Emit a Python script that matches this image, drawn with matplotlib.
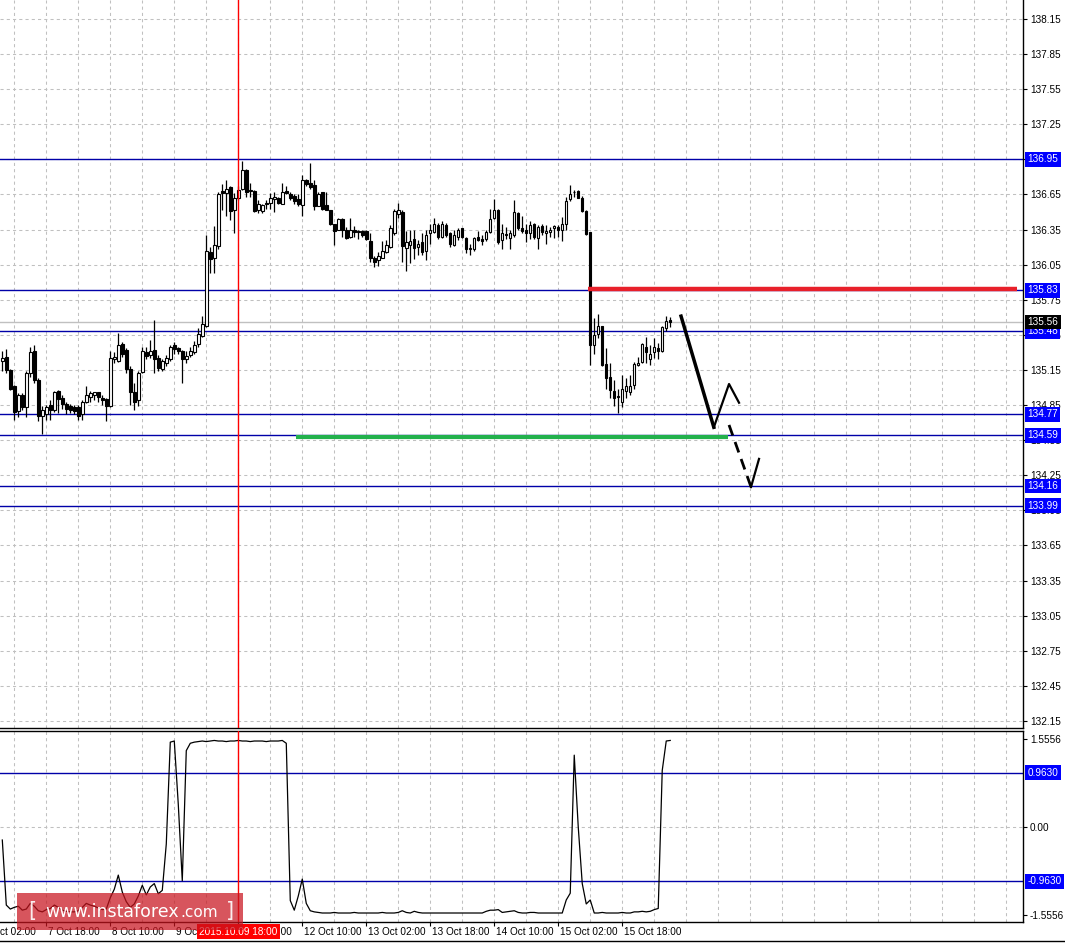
import numpy as np
import matplotlib
matplotlib.use("Agg")
import matplotlib.pyplot as plt
import matplotlib.transforms as mtransforms
from matplotlib.patches import Rectangle
from matplotlib.lines import Line2D

plt.rcParams['font.family'] = ['Liberation Sans', 'DejaVu Sans']

#### H1 candles, 7 Oct 07:00 ... 15 Oct 22:00
opens = [
    135.23, 135.26, 135.15, 135.01, 134.80, 134.94, 134.83, 135.12, 135.31, 135.06,
    134.76, 134.77, 134.85, 134.81, 134.97, 134.91, 134.86, 134.84, 134.83, 134.83,
    134.77, 134.88, 134.92, 134.94, 134.96, 134.91, 134.90, 134.84, 135.24, 135.23,
    135.37, 135.32, 135.16, 134.96, 134.89, 135.13, 135.30, 135.28, 135.32, 135.25,
    135.16, 135.21, 135.24, 135.36, 135.34, 135.31, 135.24, 135.28, 135.30, 135.37,
    135.44, 135.53, 136.16, 136.11, 136.21, 136.68, 136.66, 136.71, 136.52, 136.62,
    136.70, 136.86, 136.68, 136.68, 136.52, 136.51, 136.58, 136.58, 136.61, 136.62,
    136.57, 136.68, 136.65, 136.64, 136.61, 136.56, 136.77, 136.75, 136.73, 136.55,
    136.67, 136.56, 136.52, 136.40, 136.35, 136.44, 136.35, 136.29, 136.35, 136.34,
    136.34, 136.34, 136.25, 136.11, 136.09, 136.11, 136.16, 136.20, 136.32, 136.48,
    136.50, 136.19, 136.22, 136.27, 136.20, 136.24, 136.17, 136.32, 136.33, 136.39,
    136.29, 136.39, 136.32, 136.22, 136.29, 136.36, 136.28, 136.18, 136.18, 136.29,
    136.27, 136.27, 136.33, 136.45, 136.52, 136.26, 136.31, 136.28, 136.30, 136.49,
    136.36, 136.35, 136.32, 136.40, 136.28, 136.38, 136.32, 136.33, 136.36, 136.37,
    136.35, 136.40, 136.61, 136.67, 136.68, 136.62, 136.51, 136.33, 135.36, 135.46,
    135.53, 135.20, 135.09, 134.97, 134.92, 134.88, 134.97, 134.96, 135.02, 135.19,
    135.22, 135.35, 135.24, 135.30, 135.34, 135.31, 135.51, 135.58,
]
highs = [
    135.31, 135.33, 135.16, 135.02, 134.95, 134.95, 135.14, 135.35, 135.36, 135.08,
    134.84, 134.85, 134.89, 134.97, 134.98, 134.94, 134.88, 134.86, 134.85, 134.85,
    134.89, 135.01, 134.97, 134.96, 134.96, 134.94, 134.91, 135.31, 135.30, 135.47,
    135.39, 135.34, 135.18, 135.04, 135.14, 135.35, 135.35, 135.41, 135.58, 135.28,
    135.24, 135.28, 135.36, 135.39, 135.35, 135.32, 135.31, 135.35, 135.40, 135.51,
    135.61, 136.30, 136.20, 136.38, 136.67, 136.74, 136.77, 136.72, 136.66, 136.72,
    136.94, 136.87, 136.75, 136.69, 136.60, 136.57, 136.60, 136.66, 136.67, 136.63,
    136.75, 136.72, 136.67, 136.65, 136.65, 136.82, 136.78, 136.92, 136.77, 136.67,
    136.67, 136.67, 136.52, 136.40, 136.45, 136.45, 136.37, 136.45, 136.38, 136.35,
    136.35, 136.35, 136.32, 136.12, 136.16, 136.25, 136.26, 136.39, 136.53, 136.58,
    136.52, 136.34, 136.35, 136.35, 136.26, 136.32, 136.35, 136.40, 136.45, 136.41,
    136.42, 136.41, 136.33, 136.35, 136.36, 136.36, 136.29, 136.23, 136.29, 136.34,
    136.30, 136.35, 136.53, 136.61, 136.53, 136.40, 136.37, 136.35, 136.60, 136.50,
    136.47, 136.40, 136.42, 136.41, 136.39, 136.40, 136.39, 136.37, 136.39, 136.39,
    136.46, 136.63, 136.73, 136.69, 136.69, 136.64, 136.52, 136.33, 135.59, 135.63,
    135.53, 135.34, 135.21, 135.06, 134.99, 135.11, 135.08, 135.11, 135.22, 135.26,
    135.38, 135.43, 135.36, 135.42, 135.38, 135.53, 135.61, 135.60,
]
lows = [
    135.14, 135.12, 134.98, 134.72, 134.75, 134.81, 134.75, 135.09, 135.04, 134.71,
    134.60, 134.72, 134.72, 134.79, 134.78, 134.82, 134.77, 134.78, 134.77, 134.72,
    134.72, 134.87, 134.88, 134.89, 134.88, 134.85, 134.71, 134.83, 135.21, 135.22,
    135.26, 135.12, 134.85, 134.81, 134.84, 135.12, 135.24, 135.25, 135.12, 135.14,
    135.14, 135.18, 135.23, 135.29, 135.29, 135.04, 135.21, 135.26, 135.29, 135.35,
    135.43, 135.52, 135.98, 135.98, 136.18, 136.52, 136.47, 136.43, 136.32, 136.60,
    136.69, 136.63, 136.63, 136.50, 136.49, 136.49, 136.53, 136.53, 136.50, 136.57,
    136.57, 136.65, 136.60, 136.57, 136.55, 136.47, 136.72, 136.70, 136.52, 136.55,
    136.52, 136.52, 136.39, 136.22, 136.35, 136.29, 136.27, 136.28, 136.29, 136.27,
    136.29, 136.26, 136.07, 136.03, 136.04, 136.11, 136.15, 136.19, 136.30, 136.45,
    136.07, 136.00, 136.06, 136.10, 136.13, 136.13, 136.09, 136.23, 136.32, 136.27,
    136.28, 136.29, 136.20, 136.21, 136.26, 136.28, 136.15, 136.13, 136.17, 136.25,
    136.22, 136.25, 136.32, 136.44, 136.23, 136.18, 136.27, 136.18, 136.29, 136.35,
    136.32, 136.24, 136.27, 136.27, 136.18, 136.30, 136.23, 136.29, 136.28, 136.29,
    136.25, 136.35, 136.59, 136.63, 136.62, 136.50, 136.30, 135.19, 135.29, 135.42,
    135.18, 134.99, 134.91, 134.84, 134.78, 134.83, 134.91, 134.94, 134.99, 135.18,
    135.21, 135.21, 135.19, 135.25, 135.24, 135.30, 135.48, 135.52,
]
closes = [
    135.25, 135.15, 134.99, 134.79, 134.94, 134.83, 135.12, 135.30, 135.06, 134.76,
    134.81, 134.83, 134.81, 134.96, 134.90, 134.86, 134.82, 134.81, 134.80, 134.76,
    134.88, 134.94, 134.95, 134.96, 134.92, 134.89, 134.84, 135.25, 135.26, 135.36,
    135.29, 135.16, 134.96, 134.88, 135.12, 135.31, 135.27, 135.31, 135.24, 135.17,
    135.23, 135.25, 135.35, 135.33, 135.31, 135.24, 135.27, 135.31, 135.36, 135.46,
    135.54, 136.17, 136.10, 136.22, 136.65, 136.66, 136.70, 136.51, 136.62, 136.69,
    136.86, 136.67, 136.68, 136.51, 136.57, 136.56, 136.57, 136.62, 136.63, 136.58,
    136.67, 136.66, 136.62, 136.59, 136.57, 136.77, 136.74, 136.71, 136.55, 136.65,
    136.53, 136.52, 136.40, 136.34, 136.44, 136.35, 136.28, 136.35, 136.33, 136.33,
    136.30, 136.27, 136.11, 136.07, 136.12, 136.17, 136.22, 136.36, 136.51, 136.52,
    136.21, 136.24, 136.25, 136.19, 136.23, 136.16, 136.30, 136.35, 136.40, 136.29,
    136.40, 136.30, 136.23, 136.30, 136.35, 136.29, 136.18, 136.19, 136.28, 136.26,
    136.25, 136.33, 136.44, 136.52, 136.24, 136.32, 136.30, 136.32, 136.50, 136.36,
    136.34, 136.32, 136.39, 136.29, 136.37, 136.33, 136.34, 136.35, 136.38, 136.35,
    136.40, 136.59, 136.65, 136.67, 136.62, 136.51, 136.31, 135.36, 135.45, 135.53,
    135.19, 135.08, 134.98, 134.91, 134.92, 134.99, 135.01, 135.01, 135.20, 135.21,
    135.37, 135.30, 135.29, 135.35, 135.31, 135.52, 135.57, 135.56,
]

# lower window oscillator
indicator = [
    -0.23, -1.38, -1.45, -1.42, -1.40, -1.47, -1.45, -1.35, -1.40, -1.48,
    -1.50, -1.46, -1.44, -1.38, -1.42, -1.47, -1.49, -1.50, -1.50, -1.48,
    -1.42, -1.35, -1.38, -1.40, -1.43, -1.46, -1.45, -1.25, -1.10, -0.85,
    -1.15, -1.32, -1.42, -1.36, -1.22, -1.03, -1.20, -1.06, -1.00, -1.18,
    -1.12, -0.30, 1.50, 1.52, 0.40, -0.95, 1.35, 1.48, 1.50, 1.51,
    1.52, 1.51, 1.52, 1.53, 1.52, 1.52, 1.51, 1.52, 1.52, 1.53,
    1.52, 1.52, 1.51, 1.52, 1.52, 1.52, 1.51, 1.52, 1.52, 1.52,
    1.53, 1.48, -1.30, -1.47, -1.22, -0.92, -1.35, -1.48, -1.50, -1.51,
    -1.52, -1.52, -1.52, -1.51, -1.52, -1.52, -1.52, -1.52, -1.51, -1.52,
    -1.52, -1.52, -1.52, -1.52, -1.52, -1.51, -1.52, -1.52, -1.52, -1.51,
    -1.48, -1.51, -1.52, -1.49, -1.51, -1.52, -1.52, -1.52, -1.52, -1.52,
    -1.52, -1.52, -1.52, -1.52, -1.52, -1.52, -1.52, -1.52, -1.52, -1.52,
    -1.52, -1.49, -1.47, -1.47, -1.46, -1.51, -1.50, -1.49, -1.48, -1.51,
    -1.52, -1.52, -1.51, -1.51, -1.52, -1.52, -1.52, -1.52, -1.52, -1.52,
    -1.52, -1.29, -1.17, 1.27, 0.00, -1.00, -1.36, -1.29, -1.52, -1.52,
    -1.51, -1.52, -1.52, -1.52, -1.52, -1.51, -1.52, -1.52, -1.50, -1.50,
    -1.49, -1.50, -1.49, -1.46, -1.44, 1.00, 1.52, 1.53,
]

price_ticks = [132.15, 132.45, 132.75, 133.05, 133.35, 133.65, 133.95, 134.25,
               134.55, 134.85, 135.15, 135.45, 135.75, 136.05, 136.35, 136.65,
               136.95, 137.25, 137.55, 137.85, 138.15]
levels = [136.95, 135.83, 135.48, 134.77, 134.59, 134.16, 133.99]
bid = 135.56
ind_ticks = [1.5556, 0.0, -1.5556]
ind_tick_labels = ["1.5556", "0.00", "-1.5556"]
ind_levels = [0.9630, -0.9630]

time_idx = [-5, 11, 27, 43, 59, 75, 91, 107, 123, 139, 155]
time_labels = ["7 Oct 02:00", "7 Oct 18:00", "8 Oct 10:00", "9 Oct 02:00",
               "9 Oct 18:00", "12 Oct 10:00", "13 Oct 02:00", "13 Oct 18:00",
               "14 Oct 10:00", "15 Oct 02:00", "15 Oct 18:00"]
marker_idx = 59
marker_label = "2015.10.09 18:00"

# hand drawn objects: (bar index, price)
red_zone = ([146.4, 253.7], [135.845, 135.845])
green_zone = ([73.4, 181.4], [134.58, 134.58])
path_solid = ([169.7, 177.9], [135.61, 134.66])
path_thin = ([177.9, 181.7, 184.2], [134.66, 135.03, 134.87])
path_dash = ([181.7, 187.2], [134.68, 134.15])
path_end = ([187.2, 189.2], [134.15, 134.39])

GRID = '#c0c0c0'
LEVEL = '#0000a8'

fig = plt.figure(figsize=(10.65, 9.43), dpi=100)
ax = fig.add_axes([0, 215 / 943, 1023 / 1065, 728 / 943])
axi = fig.add_axes([0, 21 / 943, 1023 / 1065, 191 / 943])

x = np.arange(len(closes))
o = np.array(opens)
c = np.array(closes)

for a in (ax, axi):
    a.set_xlim(-0.575, 255.2)
    for g in range(3, 256, 8):
        a.axvline(g, color=GRID, lw=0.75, ls=(0, (3, 3)), zorder=0.5)
    a.spines['left'].set_visible(False)
    a.spines['right'].set_linewidth(1.0)
    a.spines['bottom'].set_linewidth(1.0)
    a.yaxis.tick_right()
    a.tick_params(axis='y', direction='out', length=3, width=0.8, pad=2, labelsize=7.2)
    # vertical marker line
    a.axvline(marker_idx, color='red', lw=1.0, zorder=4)

ax.spines['top'].set_visible(False)
axi.spines['top'].set_linewidth(1.0)

# main window
ax.set_ylim(132.09, 138.312)
for t in price_ticks:
    ax.axhline(t, color=GRID, lw=0.75, ls=(0, (3, 3)), zorder=0.5)
ax.set_yticks(price_ticks)
ax.set_yticklabels([f"{t:.2f}" for t in price_ticks])
ax.set_xticks([])

for lv in levels:
    ax.axhline(lv, color=LEVEL, lw=1.0, zorder=1.5)
ax.axhline(bid, color='#c0c0c0', lw=1.0, zorder=1.4)

# candles
ax.vlines(x, lows, highs, color='black', lw=0.9, zorder=3)
up = c >= o
body = np.maximum(np.abs(c - o), 0.004)
ax.bar(x[up], body[up], 0.62, bottom=np.minimum(o, c)[up], color='white',
       edgecolor='black', linewidth=0.8, zorder=3.2)
ax.bar(x[~up], body[~up], 0.62, bottom=np.minimum(o, c)[~up], color='black',
       edgecolor='black', linewidth=0.8, zorder=3.2)

ax.plot(*red_zone, color='#e8202a', lw=3.2, solid_capstyle='butt', zorder=5)
ax.plot(*green_zone, color='#22b14c', lw=3.0, solid_capstyle='butt', zorder=5)
ax.plot(*path_solid, color='black', lw=2.5, zorder=5)
ax.plot(*path_thin, color='black', lw=1.6, zorder=5)
ax.plot(*path_dash, color='black', lw=2.0, ls=(0, (4, 2.5)), zorder=5)
ax.plot(*path_end, color='black', lw=1.6, zorder=5)


def price_box(a, y, text, fc):
    a.text(1.0044, y, text, transform=a.get_yaxis_transform(), ha='left', va='center',
           fontsize=7.2, color='white', zorder=10, clip_on=False,
           bbox=dict(boxstyle='square,pad=0.22', fc=fc, ec='none'))


for lv in levels:
    price_box(ax, lv, f"{lv:.2f}", '#0000ff')
price_box(ax, bid, f"{bid:.2f}", 'black')

# indicator window
axi.set_ylim(-1.679, 1.697)
axi.axhline(0, color=GRID, lw=0.75, ls=(0, (3, 3)), zorder=0.5)
for lv in ind_levels:
    axi.axhline(lv, color=LEVEL, lw=1.0, zorder=1.5)
axi.plot(x, indicator, color='black', lw=0.9, zorder=3)
axi.set_yticks(ind_ticks)
axi.set_yticklabels(ind_tick_labels)
for lv in ind_levels:
    price_box(axi, lv, f"{lv:.4f}", '#0000ff')

axi.set_xticks([t for t in time_idx if t >= 0])
axi.set_xticklabels([])
axi.tick_params(axis='x', direction='out', length=3, width=0.8)

trans = mtransforms.blended_transform_factory(axi.transData, axi.transAxes)
for t, lab in zip(time_idx, time_labels):
    axi.text(t + 0.5, -0.05, lab, transform=trans, ha='left', va='center',
             fontsize=7.2, clip_on=False)
axi.text(marker_idx, -0.05, marker_label, transform=trans, ha='center', va='center',
         fontsize=7.2, color='white', clip_on=False, zorder=10,
         bbox=dict(boxstyle='square,pad=0.25', fc='red', ec='none'))

fig.add_artist(Line2D([0, 1], [2 / 943, 2 / 943], color='black', lw=1.0))

# watermark
fig.add_artist(Rectangle((17 / 1065, 13 / 943), 226 / 1065, 37 / 943,
                         transform=fig.transFigure, fc='#c8141e', ec='none',
                         alpha=0.72, zorder=20))
fig.text(28 / 1065, 26 / 943, "[", color='white', fontsize=15, family='DejaVu Sans',
         va='baseline', zorder=21, alpha=0.9)
fig.text(45 / 1065, 26 / 943, "www.instaforex", color='white', fontsize=12.5,
         family='DejaVu Sans', va='baseline', zorder=21)
fig.text(180 / 1065, 26 / 943, ".com", color='white', fontsize=11,
         family='DejaVu Sans', va='baseline', zorder=21)
fig.text(226 / 1065, 26 / 943, "]", color='white', fontsize=15, family='DejaVu Sans',
         va='baseline', zorder=21, alpha=0.9)

fig.savefig("out.png", dpi=100, facecolor='white')
